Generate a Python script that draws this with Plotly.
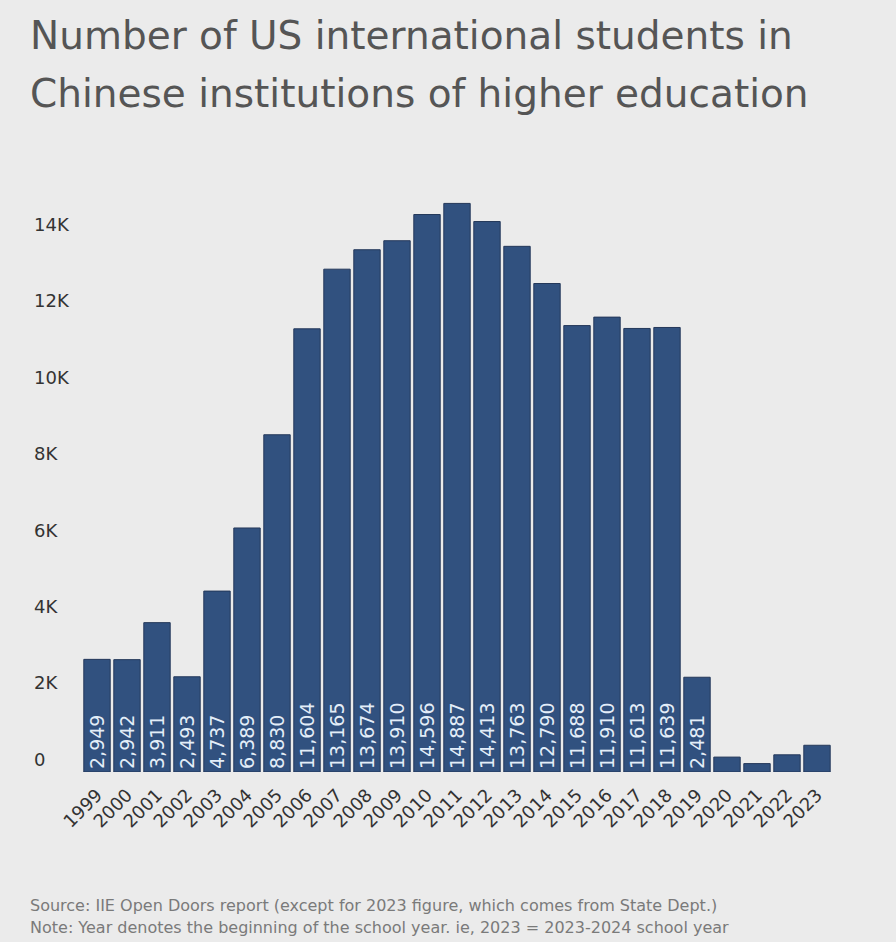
import plotly.graph_objects as go

YEARS = [str(y) for y in range(1999, 2024)]
STUDENTS = [2949, 2942, 3911, 2493, 4737, 6389, 8830, 11604, 13165, 13674,
            13910, 14596, 14887, 14413, 13763, 12790, 11688, 11910, 11613,
            11639, 2481, 390, 220, 450, 700]
Y_TICKS = [0, 2000, 4000, 6000, 8000, 10000, 12000, 14000]
Y_TICK_TEXT = ["0", "2K", "4K", "6K", "8K", "10K", "12K", "14K"]

TITLE_LINES = ["Number of US international students in",
               "Chinese institutions of higher education"]
SOURCE = "Source: IIE Open Doors report (except for 2023 figure, which comes from State Dept.)"
NOTE = "Note: Year denotes the beginning of the school year. ie, 2023 = 2023-2024 school year"

BG = "#ebebeb"
BAR = "#31517f"
PLOT_H = 942 - 180 - 170  # plot area height in px, for placing annotations

# the tiny last bars carry no label in the original
labels = [f"{v:,}" if v >= 1000 else "" for v in STUDENTS]

fig = go.Figure(go.Bar(
    x=YEARS, y=STUDENTS, text=labels,
    textposition="inside", insidetextanchor="start", textangle=-90,
    constraintext="none",
    textfont=dict(size=19, color="#e3edf8", family="DejaVu Sans"),
    marker=dict(color=BAR, line=dict(color="#24385a", width=1)),
    hoverinfo="x+y",
))

fig.update_layout(
    width=896, height=942,
    paper_bgcolor=BG, plot_bgcolor=BG,
    margin=dict(l=28, r=64, t=180, b=170),
    bargap=0.12,
    showlegend=False,
    font=dict(family="DejaVu Sans", color="#333333"),
)
fig.update_xaxes(
    type="category", range=[-2.3, 24.5],
    tickangle=-45, tickfont=dict(size=18, color="#333333"),
    ticklabelstandoff=8,
    showgrid=False, showline=False, ticks="",
)
fig.update_yaxes(
    range=[0, 15500], tickvals=Y_TICKS, ticktext=Y_TICK_TEXT,
    ticklabelposition="inside top", tickfont=dict(size=18, color="#333333"),
    ticklabelstandoff=3,
    showgrid=False, zeroline=False, showline=False, ticks="",
)

# title lines (separate annotations to get the wide line spacing)
for i, line in enumerate(TITLE_LINES):
    fig.add_annotation(
        text=line, xref="paper", yref="paper", x=0, xanchor="left",
        y=(772 - 35 - 58 * i) / PLOT_H, yanchor="middle", showarrow=False,
        font=dict(size=39, color="#555555", family="DejaVu Sans"),
    )

for i, line in enumerate([SOURCE, NOTE]):
    fig.add_annotation(
        text=line, xref="paper", yref="paper", x=0, xanchor="left",
        y=-(133 + 22 * i) / PLOT_H, yanchor="middle", showarrow=False,
        font=dict(size=16, color="#7a7a7a", family="DejaVu Sans"),
    )

fig.write_html(
    "out.html",
    config={"displayModeBar": False},
    post_script="document.body.style.margin='0';"
                "document.body.style.background='#ebebeb';",
)
